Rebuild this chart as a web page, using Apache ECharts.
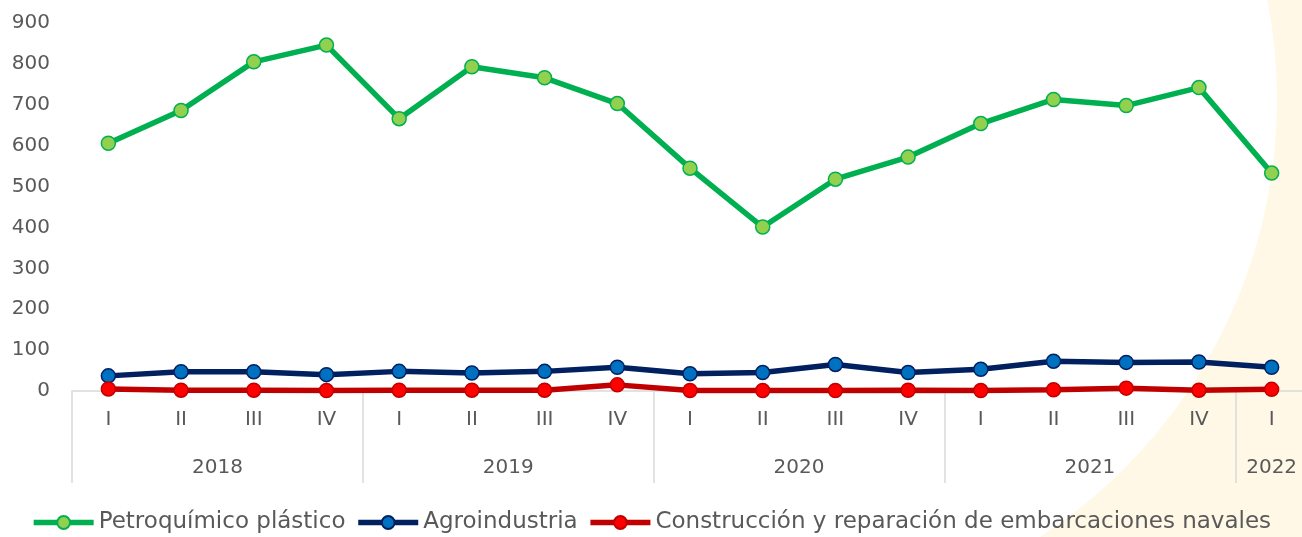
<!DOCTYPE html>
<html>
<head>
<meta charset="utf-8">
<script src="https://cdn.jsdelivr.net/npm/echarts@6/dist/echarts.min.js"></script>
<style>
  html, body { margin: 0; padding: 0; background: #fff; }
  #chart { width: 1302px; height: 537px; }
</style>
</head>
<body>
<div id="chart"></div>
<script>
// datos
var trimestres = ['I', 'II', 'III', 'IV', 'I', 'II', 'III', 'IV', 'I', 'II', 'III', 'IV', 'I', 'II', 'III', 'IV', 'I'];
var anios = ['2018', '2019', '2020', '2021', '2022'];
var petroquimico = [606, 686, 805, 846, 666, 793, 766, 703, 545, 401, 518, 572, 654, 713, 698, 742, 533];
var agroindustria = [37, 47, 47, 40, 48, 44, 48, 58, 42, 45, 65, 45, 53, 73, 70, 71, 58];
var construccion = [5, 2, 2, 1, 2, 2, 2, 15, 1, 1, 1, 2, 1, 3, 7, 2, 4];

// eje de años: 35 puntos a media banda, etiqueta en el centro de cada grupo
var posAnios = [4, 12, 20, 28, 33];
var ejeAnios = [];
for (var i = 0; i < 35; i++) {
    var k = posAnios.indexOf(i);
    ejeAnios.push(k >= 0 ? anios[k] : '');
}

var chart = echarts.init(document.getElementById('chart'));
var fuente = 'DejaVu Sans';
var gris = '#595959';

function serie(nombre, datos, linea, relleno) {
    return {
        name: nombre,
        type: 'line',
        data: datos,
        symbol: 'circle',
        symbolSize: 14,
        lineStyle: { color: linea, width: 5.5 },
        itemStyle: { color: relleno, borderColor: linea, borderWidth: 1.5 },
        emphasis: { disabled: true }
    };
}

chart.setOption({
    backgroundColor: '#ffffff',
    animation: false,
    textStyle: { fontFamily: fuente },
    graphic: [
        { type: 'rect', z: -20, shape: { x: 1000, y: 0, width: 302, height: 537 }, style: { fill: '#fff8e6' } },
        { type: 'circle', z: -19, shape: { cx: 756, cy: 100, r: 521 }, style: { fill: '#ffffff' } }
    ],
    grid: { left: 72, width: 1236, top: 23, bottom: 146, outerBoundsMode: 'none', containLabel: false },
    legend: {
        bottom: -2,
        left: 'center',
        itemWidth: 60,
        itemHeight: 16,
        itemGap: 10,
        lineStyle: { width: 5.5 },
        textStyle: { fontFamily: fuente, fontSize: 23, color: gris },
        data: ['Petroquímico plástico', 'Agroindustria', 'Construcción y reparación de embarcaciones navales']
    },
    xAxis: [
        {
            type: 'category',
            data: trimestres,
            position: 'bottom',
            axisLine: { lineStyle: { color: '#d9d9d9', width: 1.5 } },
            axisTick: {
                show: true,
                length: 92,
                lineStyle: { color: '#d9d9d9', width: 1.5 },
                interval: function (index) { return index % 4 === 0; }
            },
            axisLabel: { interval: 0, margin: 19, fontSize: 20, color: gris, fontFamily: fuente }
        },
        {
            type: 'category',
            data: ejeAnios,
            position: 'bottom',
            boundaryGap: false,
            axisLine: { show: false },
            axisTick: { show: false },
            axisLabel: { interval: 0, margin: 67, fontSize: 20, color: gris, fontFamily: fuente }
        }
    ],
    yAxis: {
        type: 'value',
        min: 0,
        max: 900,
        interval: 100,
        splitLine: { show: false },
        axisLine: { show: false },
        axisTick: { show: false },
        axisLabel: { margin: 22, fontSize: 20, color: gris, fontFamily: fuente }
    },
    series: [
        serie('Petroquímico plástico', petroquimico, '#00b050', '#92d050'),
        serie('Agroindustria', agroindustria, '#002060', '#0070c0'),
        serie('Construcción y reparación de embarcaciones navales', construccion, '#c00000', '#ff0000')
    ]
});
</script>
</body>
</html>
